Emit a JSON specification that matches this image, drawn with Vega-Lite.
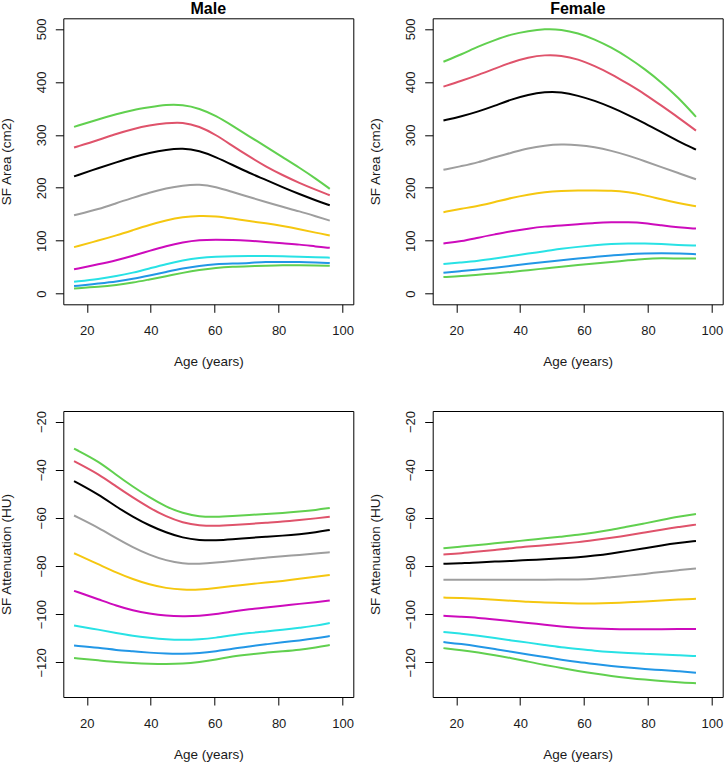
{
  "$schema": "https://vega.github.io/schema/vega-lite/v6.json",
  "background": "white",
  "autosize": {"type": "none"},
  "padding": {"left": 63.3, "top": 18.3, "right": 661.7, "bottom": 745.7},
  "columns": 2,
  "spacing": {"row": 106.7, "column": 79.4},
  "bounds": "flush",
  "datasets": {
    "maleArea": [
      {"age": 16, "c3": 10, "c5": 14.4, "c10": 22.6, "c25": 46, "c50": 88, "c75": 148, "c90": 221.5, "c95": 276, "c97": 315},
      {"age": 24, "c3": 13, "c5": 19.4, "c10": 28, "c25": 56, "c50": 101, "c75": 160, "c90": 238, "c95": 291, "c97": 330},
      {"age": 29.2, "c3": 16.3, "c5": 22.6, "c10": 33, "c25": 63, "c50": 110, "c75": 171, "c90": 248, "c95": 302, "c97": 339},
      {"age": 34.4, "c3": 20.7, "c5": 28, "c10": 39.5, "c25": 71.5, "c50": 120, "c75": 181, "c90": 258, "c95": 311, "c97": 347},
      {"age": 39.6, "c3": 27, "c5": 34.5, "c10": 47.7, "c25": 81, "c50": 130, "c75": 191, "c90": 266, "c95": 318, "c97": 352},
      {"age": 44.8, "c3": 33, "c5": 41, "c10": 56, "c25": 90, "c50": 138.6, "c75": 199, "c90": 272, "c95": 322, "c97": 357},
      {"age": 50, "c3": 39.5, "c5": 47.7, "c10": 63, "c25": 97, "c50": 145, "c75": 204.5, "c90": 275, "c95": 324, "c97": 357},
      {"age": 55.2, "c3": 45, "c5": 52.7, "c10": 68, "c25": 101.6, "c50": 147.4, "c75": 207, "c90": 270, "c95": 316, "c97": 350},
      {"age": 60.4, "c3": 49, "c5": 56, "c10": 70, "c25": 102, "c50": 146.5, "c75": 202, "c90": 258, "c95": 300, "c97": 336},
      {"age": 65.6, "c3": 51, "c5": 57, "c10": 71, "c25": 101.6, "c50": 142, "c75": 192, "c90": 243, "c95": 279, "c97": 317},
      {"age": 70.8, "c3": 52, "c5": 58, "c10": 71, "c25": 100, "c50": 137, "c75": 182.6, "c90": 228, "c95": 259, "c97": 297},
      {"age": 76, "c3": 53, "c5": 60, "c10": 71, "c25": 98, "c50": 133, "c75": 173, "c90": 215, "c95": 240, "c97": 278},
      {"age": 81.2, "c3": 54, "c5": 60, "c10": 71, "c25": 95, "c50": 128, "c75": 164, "c90": 201, "c95": 224, "c97": 258},
      {"age": 86.5, "c3": 54, "c5": 60, "c10": 70, "c25": 93, "c50": 122, "c75": 155.6, "c90": 188, "c95": 209, "c97": 238},
      {"age": 91.7, "c3": 53.3, "c5": 59, "c10": 69, "c25": 89, "c50": 115, "c75": 146, "c90": 176, "c95": 196, "c97": 217},
      {"age": 96, "c3": 52.7, "c5": 58, "c10": 68, "c25": 86.6, "c50": 110, "c75": 138, "c90": 167, "c95": 186, "c97": 198}
    ],
    "femaleArea": [
      {"age": 16, "c3": 31.4, "c5": 39.5, "c10": 56, "c25": 95, "c50": 154, "c75": 234, "c90": 327, "c95": 391, "c97": 438},
      {"age": 21.7, "c3": 33, "c5": 42.7, "c10": 59, "c25": 99, "c50": 160.6, "c75": 241, "c90": 335, "c95": 402, "c97": 452},
      {"age": 26.9, "c3": 36, "c5": 45.8, "c10": 62, "c25": 106, "c50": 165.6, "c75": 248, "c90": 344, "c95": 413, "c97": 467},
      {"age": 32.1, "c3": 38, "c5": 49, "c10": 66.5, "c25": 112, "c50": 173, "c75": 258, "c90": 355, "c95": 425, "c97": 479},
      {"age": 37.3, "c3": 41, "c5": 52.7, "c10": 71, "c25": 118, "c50": 181, "c75": 266, "c90": 367, "c95": 437, "c97": 490},
      {"age": 42.5, "c3": 44.5, "c5": 56.5, "c10": 76, "c25": 123, "c50": 187, "c75": 275, "c90": 376, "c95": 446, "c97": 496},
      {"age": 47.7, "c3": 47.7, "c5": 60, "c10": 80, "c25": 127, "c50": 192, "c75": 280, "c90": 381, "c95": 451, "c97": 500},
      {"age": 52.9, "c3": 51, "c5": 63, "c10": 85, "c25": 129, "c50": 194, "c75": 282, "c90": 381, "c95": 450, "c97": 499},
      {"age": 58.1, "c3": 54, "c5": 66.5, "c10": 88.5, "c25": 131, "c50": 195, "c75": 281, "c90": 374, "c95": 443, "c97": 492},
      {"age": 63.3, "c3": 57, "c5": 69.6, "c10": 91.6, "c25": 133.6, "c50": 195, "c75": 277, "c90": 364.5, "c95": 430, "c97": 480.5},
      {"age": 68.5, "c3": 60, "c5": 72, "c10": 94, "c25": 135, "c50": 195, "c75": 270, "c90": 352, "c95": 415, "c97": 465},
      {"age": 73.8, "c3": 63, "c5": 74.7, "c10": 95, "c25": 135, "c50": 192, "c75": 261, "c90": 337.5, "c95": 396, "c97": 446},
      {"age": 79, "c3": 66, "c5": 76, "c10": 95, "c25": 133.6, "c50": 186, "c75": 250, "c90": 322, "c95": 377, "c97": 424},
      {"age": 84.2, "c3": 67, "c5": 76.5, "c10": 94, "c25": 129, "c50": 178, "c75": 239, "c90": 305, "c95": 355, "c97": 399},
      {"age": 89.4, "c3": 66.5, "c5": 76, "c10": 92, "c25": 125, "c50": 171, "c75": 228, "c90": 288, "c95": 333, "c97": 371},
      {"age": 95, "c3": 66.5, "c5": 74.7, "c10": 91, "c25": 123, "c50": 165, "c75": 216, "c90": 272, "c95": 308, "c97": 334}
    ],
    "maleHU": [
      {"age": 16, "c3": -118.2, "c5": -113, "c10": -104.7, "c25": -90.3, "c50": -74.7, "c75": -59, "c90": -44.7, "c95": -36.4, "c97": -31.2},
      {"age": 24, "c3": -119.2, "c5": -114, "c10": -106.5, "c25": -94, "c50": -79.5, "c75": -64.3, "c90": -50.5, "c95": -42, "c97": -36.7},
      {"age": 29.2, "c3": -119.9, "c5": -114.9, "c10": -107.8, "c25": -96.5, "c50": -82.7, "c75": -68.5, "c90": -55.4, "c95": -47, "c97": -42.2},
      {"age": 34.4, "c3": -120.3, "c5": -115.4, "c10": -109, "c25": -98.5, "c50": -85.5, "c75": -72.2, "c90": -59.5, "c95": -51.5, "c97": -47},
      {"age": 39.6, "c3": -120.6, "c5": -116, "c10": -109.8, "c25": -99.8, "c50": -87.7, "c75": -75.4, "c90": -63.2, "c95": -55.8, "c97": -51.5},
      {"age": 44.8, "c3": -120.7, "c5": -116.4, "c10": -110.5, "c25": -100.7, "c50": -89.2, "c75": -77.7, "c90": -66.1, "c95": -59.5, "c97": -55.4},
      {"age": 50, "c3": -120.6, "c5": -116.5, "c10": -110.7, "c25": -100.9, "c50": -89.9, "c75": -79, "c90": -68.3, "c95": -62, "c97": -58.1},
      {"age": 55.2, "c3": -119.9, "c5": -116.2, "c10": -110.5, "c25": -100.8, "c50": -89.9, "c75": -79.1, "c90": -69.3, "c95": -63.2, "c97": -59.5},
      {"age": 60.4, "c3": -118.9, "c5": -115.4, "c10": -109.8, "c25": -100, "c50": -89.2, "c75": -78.6, "c90": -69.4, "c95": -63.4, "c97": -59.6},
      {"age": 65.6, "c3": -117.5, "c5": -114.3, "c10": -108.7, "c25": -98.9, "c50": -88.2, "c75": -77.9, "c90": -68.9, "c95": -63, "c97": -59.2},
      {"age": 70.8, "c3": -116.7, "c5": -113.4, "c10": -107.8, "c25": -97.9, "c50": -87.5, "c75": -77.2, "c90": -68.3, "c95": -62.5, "c97": -58.8},
      {"age": 76, "c3": -116, "c5": -112.5, "c10": -107.2, "c25": -97.2, "c50": -86.9, "c75": -76.5, "c90": -67.8, "c95": -62, "c97": -58.4},
      {"age": 81.2, "c3": -115.4, "c5": -111.7, "c10": -106.5, "c25": -96.5, "c50": -86.2, "c75": -75.9, "c90": -67.4, "c95": -61.6, "c97": -58},
      {"age": 86.5, "c3": -114.8, "c5": -110.9, "c10": -105.6, "c25": -95.7, "c50": -85.3, "c75": -75.4, "c90": -66.8, "c95": -60.9, "c97": -57.4},
      {"age": 91.7, "c3": -113.8, "c5": -110, "c10": -104.8, "c25": -95, "c50": -84.4, "c75": -74.7, "c90": -66, "c95": -60.2, "c97": -56.7},
      {"age": 96, "c3": -112.8, "c5": -109.1, "c10": -103.7, "c25": -94.3, "c50": -83.7, "c75": -74.3, "c90": -65, "c95": -59.5, "c97": -55.9}
    ],
    "femaleHU": [
      {"age": 16, "c3": -114.1, "c5": -111.6, "c10": -107.4, "c25": -100.7, "c50": -93.1, "c75": -85.7, "c90": -79.1, "c95": -75.2, "c97": -72.6},
      {"age": 21.7, "c3": -114.9, "c5": -112.4, "c10": -108.1, "c25": -101.1, "c50": -93.3, "c75": -85.7, "c90": -78.8, "c95": -74.7, "c97": -71.9},
      {"age": 26.9, "c3": -115.9, "c5": -113.4, "c10": -108.9, "c25": -101.5, "c50": -93.6, "c75": -85.7, "c90": -78.6, "c95": -74, "c97": -71.2},
      {"age": 32.1, "c3": -117, "c5": -114.5, "c10": -109.9, "c25": -102.2, "c50": -94, "c75": -85.7, "c90": -78.1, "c95": -73.3, "c97": -70.6},
      {"age": 37.3, "c3": -118.3, "c5": -115.6, "c10": -110.9, "c25": -102.9, "c50": -94.4, "c75": -85.7, "c90": -77.9, "c95": -72.6, "c97": -69.9},
      {"age": 42.5, "c3": -119.7, "c5": -116.7, "c10": -111.8, "c25": -103.6, "c50": -94.9, "c75": -85.7, "c90": -77.5, "c95": -71.9, "c97": -69.2},
      {"age": 47.7, "c3": -121.1, "c5": -117.8, "c10": -112.8, "c25": -104.4, "c50": -95.1, "c75": -85.7, "c90": -77.2, "c95": -71.4, "c97": -68.5},
      {"age": 52.9, "c3": -122.3, "c5": -118.9, "c10": -113.8, "c25": -105.1, "c50": -95.4, "c75": -85.6, "c90": -76.8, "c95": -70.8, "c97": -67.8},
      {"age": 58.1, "c3": -123.6, "c5": -119.9, "c10": -114.5, "c25": -105.7, "c50": -95.6, "c75": -85.6, "c90": -76.4, "c95": -70.1, "c97": -67.1},
      {"age": 63.3, "c3": -124.7, "c5": -120.7, "c10": -115.2, "c25": -106, "c50": -95.6, "c75": -85.3, "c90": -75.7, "c95": -69.2, "c97": -66.1},
      {"age": 68.5, "c3": -125.7, "c5": -121.5, "c10": -115.7, "c25": -106.2, "c50": -95.4, "c75": -84.6, "c90": -74.8, "c95": -68.3, "c97": -65},
      {"age": 73.8, "c3": -126.5, "c5": -122.2, "c10": -116.1, "c25": -106.3, "c50": -95.1, "c75": -84, "c90": -73.7, "c95": -67.2, "c97": -63.6},
      {"age": 79, "c3": -127.2, "c5": -122.8, "c10": -116.4, "c25": -106.3, "c50": -94.7, "c75": -83.3, "c90": -72.6, "c95": -66.1, "c97": -62.3},
      {"age": 84.2, "c3": -127.7, "c5": -123.2, "c10": -116.7, "c25": -106.2, "c50": -94.3, "c75": -82.4, "c90": -71.4, "c95": -64.9, "c97": -60.9},
      {"age": 89.4, "c3": -128.3, "c5": -123.7, "c10": -117.1, "c25": -106.2, "c50": -93.9, "c75": -81.7, "c90": -70.4, "c95": -63.8, "c97": -59.5},
      {"age": 95, "c3": -128.7, "c5": -124.3, "c10": -117.4, "c25": -106.2, "c50": -93.6, "c75": -81, "c90": -69.6, "c95": -62.8, "c97": -58.4}
    ]
  },
  "concat": [
    {
      "data": {"name": "maleArea"},
      "title": "Male",
      "width": 290,
      "height": 286,
      "transform": [{"fold": ["c3", "c5", "c10", "c25", "c50", "c75", "c90", "c95", "c97"], "as": ["centile", "value"]}],
      "mark": {"type": "line", "interpolate": "basis", "strokeWidth": 2},
      "encoding": {
        "x": {"field": "age", "type": "quantitative", "scale": {"domain": [12.64, 103.36], "nice": false, "zero": false}, "axis": {"values": [20, 40, 60, 80, 100], "title": "Age (years)"}},
        "y": {"field": "value", "type": "quantitative", "scale": {"domain": [-20, 520], "nice": false, "zero": false}, "axis": {"values": [0, 100, 200, 300, 400, 500], "title": "SF Area (cm2)"}},
        "color": {"field": "centile", "type": "nominal", "scale": {"domain": ["c3", "c5", "c10", "c25", "c50", "c75", "c90", "c95", "c97"], "range": ["#61D04F", "#2297E6", "#28E2E5", "#CD0BBC", "#F5C710", "#9E9E9E", "#000000", "#DF536B", "#61D04F"]}, "legend": null}
      }
    },
    {
      "data": {"name": "femaleArea"},
      "title": "Female",
      "width": 290,
      "height": 286,
      "transform": [{"fold": ["c3", "c5", "c10", "c25", "c50", "c75", "c90", "c95", "c97"], "as": ["centile", "value"]}],
      "mark": {"type": "line", "interpolate": "basis", "strokeWidth": 2},
      "encoding": {
        "x": {"field": "age", "type": "quantitative", "scale": {"domain": [12.64, 103.36], "nice": false, "zero": false}, "axis": {"values": [20, 40, 60, 80, 100], "title": "Age (years)"}},
        "y": {"field": "value", "type": "quantitative", "scale": {"domain": [-20, 520], "nice": false, "zero": false}, "axis": {"values": [0, 100, 200, 300, 400, 500], "title": "SF Area (cm2)"}},
        "color": {"field": "centile", "type": "nominal", "scale": {"domain": ["c3", "c5", "c10", "c25", "c50", "c75", "c90", "c95", "c97"], "range": ["#61D04F", "#2297E6", "#28E2E5", "#CD0BBC", "#F5C710", "#9E9E9E", "#000000", "#DF536B", "#61D04F"]}, "legend": null}
      }
    },
    {
      "data": {"name": "maleHU"},
      "width": 290,
      "height": 286,
      "transform": [{"fold": ["c3", "c5", "c10", "c25", "c50", "c75", "c90", "c95", "c97"], "as": ["centile", "value"]}],
      "mark": {"type": "line", "interpolate": "basis", "strokeWidth": 2},
      "encoding": {
        "x": {"field": "age", "type": "quantitative", "scale": {"domain": [12.64, 103.36], "nice": false, "zero": false}, "axis": {"values": [20, 40, 60, 80, 100], "title": "Age (years)"}},
        "y": {"field": "value", "type": "quantitative", "scale": {"domain": [-134.4, -15.6], "nice": false, "zero": false}, "axis": {"values": [-20, -40, -60, -80, -100, -120], "title": "SF Attenuation (HU)"}},
        "color": {"field": "centile", "type": "nominal", "scale": {"domain": ["c3", "c5", "c10", "c25", "c50", "c75", "c90", "c95", "c97"], "range": ["#61D04F", "#2297E6", "#28E2E5", "#CD0BBC", "#F5C710", "#9E9E9E", "#000000", "#DF536B", "#61D04F"]}, "legend": null}
      }
    },
    {
      "data": {"name": "femaleHU"},
      "width": 290,
      "height": 286,
      "transform": [{"fold": ["c3", "c5", "c10", "c25", "c50", "c75", "c90", "c95", "c97"], "as": ["centile", "value"]}],
      "mark": {"type": "line", "interpolate": "basis", "strokeWidth": 2},
      "encoding": {
        "x": {"field": "age", "type": "quantitative", "scale": {"domain": [12.64, 103.36], "nice": false, "zero": false}, "axis": {"values": [20, 40, 60, 80, 100], "title": "Age (years)"}},
        "y": {"field": "value", "type": "quantitative", "scale": {"domain": [-134.4, -15.6], "nice": false, "zero": false}, "axis": {"values": [-20, -40, -60, -80, -100, -120], "title": "SF Attenuation (HU)"}},
        "color": {"field": "centile", "type": "nominal", "scale": {"domain": ["c3", "c5", "c10", "c25", "c50", "c75", "c90", "c95", "c97"], "range": ["#61D04F", "#2297E6", "#28E2E5", "#CD0BBC", "#F5C710", "#9E9E9E", "#000000", "#DF536B", "#61D04F"]}, "legend": null}
      }
    }
  ],
  "config": {
    "view": {"stroke": "#000000", "strokeWidth": 1, "fill": null},
    "font": "Liberation Sans",
    "axis": {
      "domain": false,
      "grid": false,
      "ticks": true,
      "tickColor": "#000000",
      "tickSize": 8,
      "tickWidth": 1,
      "labelFont": "Liberation Sans",
      "labelFontSize": 13,
      "labelColor": "#1a1a1a",
      "labelFlush": false,
      "labelOverlap": false,
      "titleFont": "Liberation Sans",
      "titleFontSize": 13.5,
      "titleFontWeight": "normal",
      "titleColor": "#1a1a1a"
    },
    "axisX": {
      "labelBaseline": "alphabetic",
      "labelPadding": 22.4,
      "titleBaseline": "alphabetic",
      "titleY": 61.6
    },
    "axisY": {
      "labelAngle": 270,
      "labelAlign": "center",
      "labelBaseline": "alphabetic",
      "labelPadding": 10.3,
      "titleAngle": 270,
      "titleAlign": "center",
      "titleBaseline": "alphabetic",
      "titleX": -52.8,
      "titleY": 143
    },
    "title": {
      "font": "Liberation Sans",
      "fontSize": 16,
      "fontWeight": "bold",
      "color": "#000000",
      "anchor": "middle",
      "frame": "group",
      "baseline": "alphabetic",
      "offset": 1.5
    }
  }
}
